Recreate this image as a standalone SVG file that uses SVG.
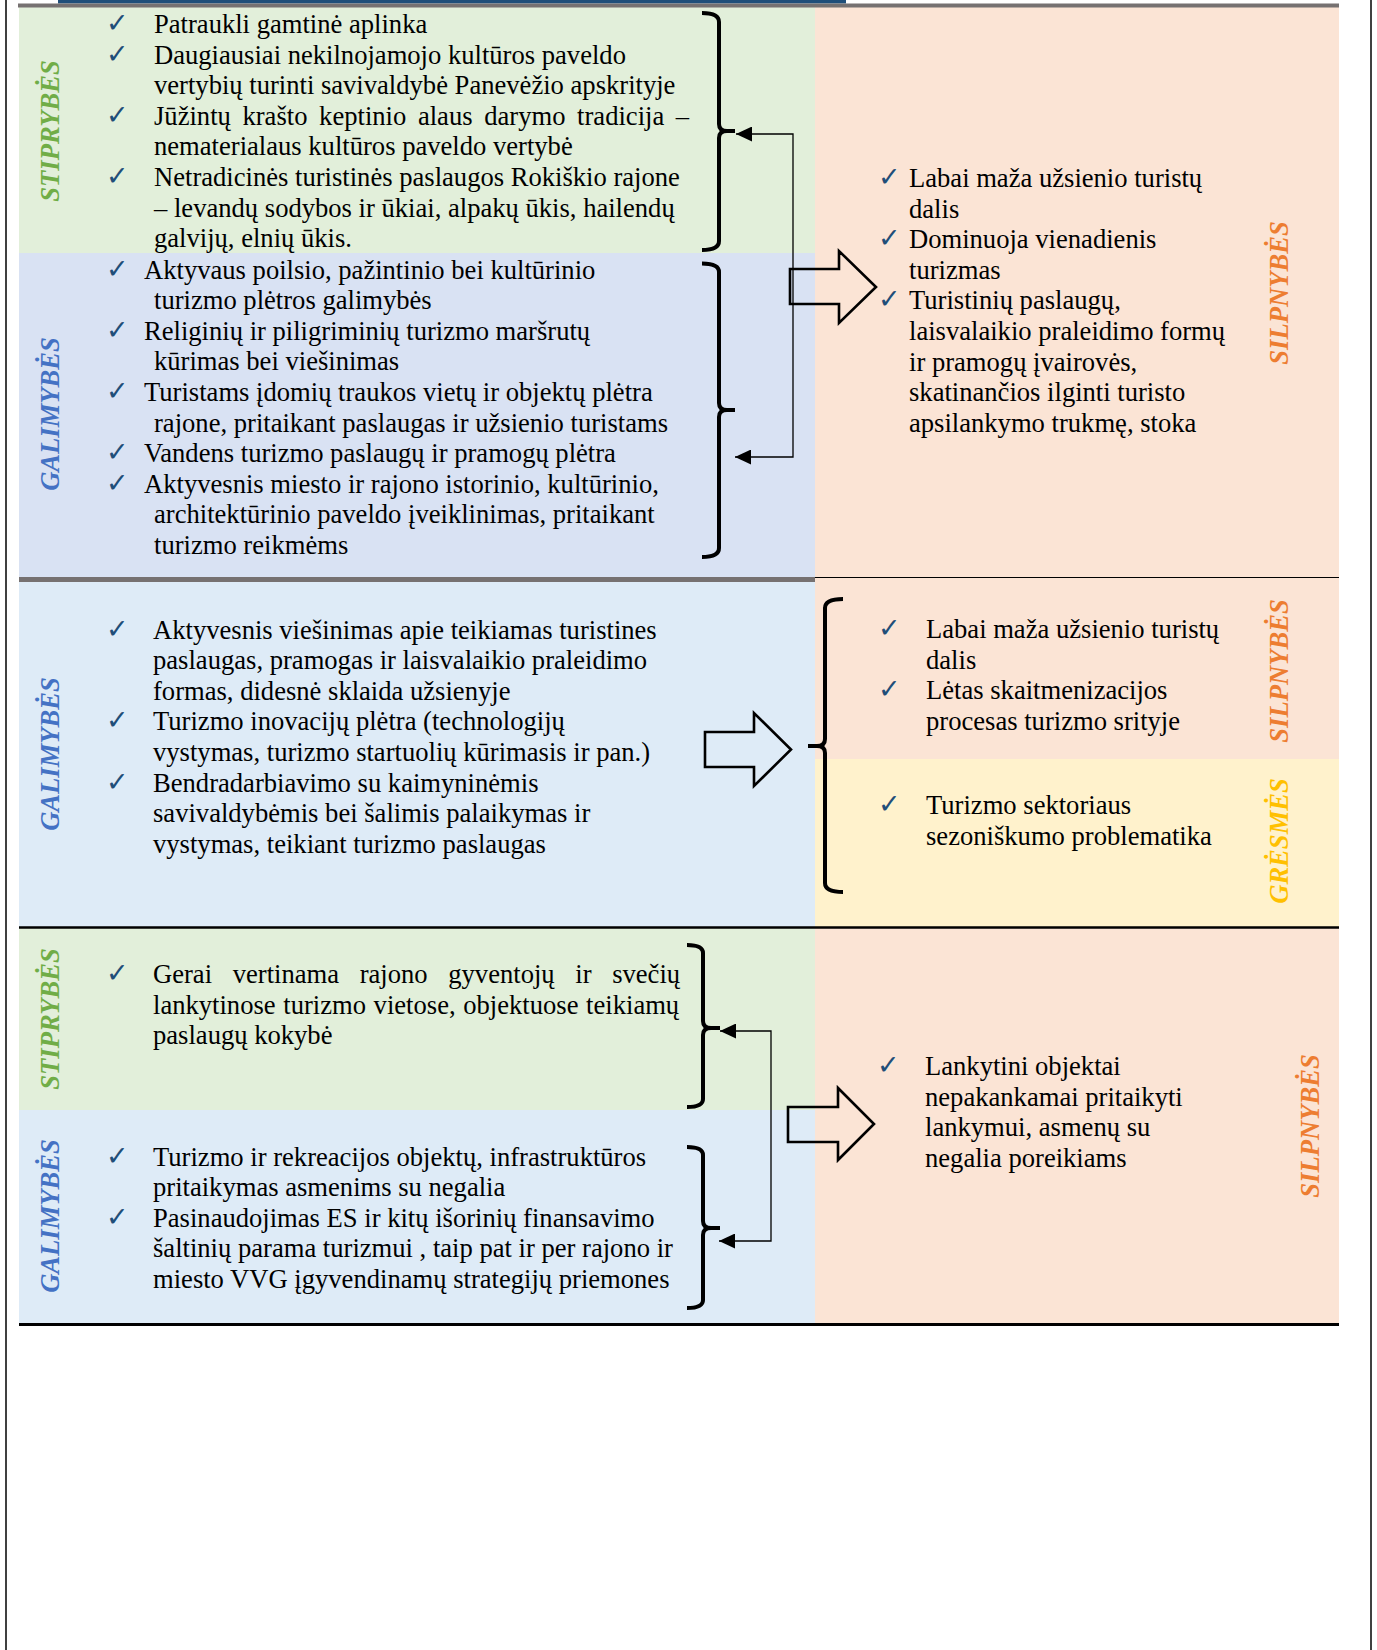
<svg xmlns="http://www.w3.org/2000/svg" width="1377" height="1650" viewBox="0 0 1377 1650">
<style>
.t{font-family:"Liberation Serif","Times New Roman",serif;font-size:26.6px;fill:#000}
.ck{font-family:"DejaVu Sans",sans-serif;font-size:27px;fill:#1F4E79}
.lbl{font-family:"Liberation Serif","Times New Roman",serif;font-size:26.6px;font-weight:bold;font-style:italic;text-anchor:middle}
.g{fill:#70AD47}.b{fill:#4472C4}.o{fill:#ED7D31}.y{fill:#FFC000}
.brace{fill:none;stroke:#000;stroke-width:4;stroke-linejoin:round}
.conn{fill:none;stroke:#000;stroke-width:1.3}
.block{fill:none;stroke:#000;stroke-width:2.6;stroke-linejoin:miter}
</style>
<defs>
<marker id="ah" viewBox="0 0 16 15" refX="16" refY="7.5" markerWidth="16" markerHeight="15" markerUnits="userSpaceOnUse" orient="auto-start-reverse">
<path d="M0,0 L16,7.5 L0,15 z" fill="#000"/>
</marker>
</defs>
<rect width="1377" height="1650" fill="#fff"/>
<g id="frame">
<line x1="6" y1="0" x2="6" y2="1650" stroke="#000" stroke-width="1.5"/>
<line x1="1371" y1="0" x2="1371" y2="1650" stroke="#000" stroke-width="1.5"/>
<rect x="58" y="0" width="788" height="3.5" fill="#1F4E79"/>
</g>
<g id="sec1-strengths">
<rect x="19" y="7" width="796" height="246" fill="#E2EFDA"/>
<text class="lbl g" transform="translate(59,131) rotate(-90)">STIPRYBĖS</text>
<text class="ck" x="106" y="32">✓</text><text class="t" x="154" y="33">Patraukli gamtinė aplinka</text>
<text class="ck" x="106" y="62.6">✓</text><text class="t" x="154" y="63.6">Daugiausiai nekilnojamojo kultūros paveldo</text>
<text class="t" x="154" y="94.2">vertybių turinti savivaldybė Panevėžio apskrityje</text>
<text class="ck" x="106" y="123.8">✓</text><text class="t" x="154" y="124.8" word-spacing="5">Jūžintų krašto keptinio alaus darymo tradicija –</text>
<text class="t" x="154" y="155.4">nematerialaus kultūros paveldo vertybė</text>
<text class="ck" x="106" y="185">✓</text><text class="t" x="154" y="186">Netradicinės turistinės paslaugos Rokiškio rajone</text>
<text class="t" x="154" y="216.6">– levandų sodybos ir ūkiai, alpakų ūkis, hailendų</text>
<text class="t" x="154" y="247.2">galvijų, elnių ūkis.</text>
</g>
<g id="sec1-opportunities">
<rect x="19" y="253" width="796" height="324" fill="#D9E2F3"/>
<text class="lbl b" transform="translate(59,414) rotate(-90)">GALIMYBĖS</text>
<text class="ck" x="106" y="277.5">✓</text><text class="t" x="144" y="278.5">Aktyvaus poilsio, pažintinio bei kultūrinio</text>
<text class="t" x="154" y="309.1">turizmo plėtros galimybės</text>
<text class="ck" x="106" y="338.7">✓</text><text class="t" x="144" y="339.7">Religinių ir piligriminių turizmo maršrutų</text>
<text class="t" x="154" y="370.3">kūrimas bei viešinimas</text>
<text class="ck" x="106" y="399.9">✓</text><text class="t" x="144" y="400.9">Turistams įdomių traukos vietų ir objektų plėtra</text>
<text class="t" x="154" y="431.5">rajone, pritaikant paslaugas ir užsienio turistams</text>
<text class="ck" x="106" y="461.1">✓</text><text class="t" x="144" y="462.1">Vandens turizmo paslaugų ir pramogų plėtra</text>
<text class="ck" x="106" y="491.7">✓</text><text class="t" x="144" y="492.7">Aktyvesnis miesto ir rajono istorinio, kultūrinio,</text>
<text class="t" x="154" y="523.3">architektūrinio paveldo įveiklinimas, pritaikant</text>
<text class="t" x="154" y="553.9">turizmo reikmėms</text>
</g>
<g id="sec1-weaknesses">
<rect x="815" y="7" width="524" height="570" fill="#FBE4D5"/>
<text class="lbl o" transform="translate(1288,293) rotate(-90)">SILPNYBĖS</text>
<text class="ck" x="878" y="186">✓</text><text class="t" x="909" y="187">Labai maža užsienio turistų</text>
<text class="t" x="909" y="217.6">dalis</text>
<text class="ck" x="878" y="247.2">✓</text><text class="t" x="909" y="248.2">Dominuoja vienadienis</text>
<text class="t" x="909" y="278.8">turizmas</text>
<text class="ck" x="878" y="308.4">✓</text><text class="t" x="909" y="309.4">Turistinių paslaugų,</text>
<text class="t" x="909" y="340">laisvalaikio praleidimo formų</text>
<text class="t" x="909" y="370.6">ir pramogų įvairovės,</text>
<text class="t" x="909" y="401.2">skatinančios ilginti turisto</text>
<text class="t" x="909" y="431.8">apsilankymo trukmę, stoka</text>
</g>
<g id="sec2-opportunities">
<rect x="19" y="577" width="796" height="350" fill="#DEEBF7"/>
<text class="lbl b" transform="translate(59,754) rotate(-90)">GALIMYBĖS</text>
<text class="ck" x="106" y="637.5">✓</text><text class="t" x="153" y="638.5">Aktyvesnis viešinimas apie teikiamas turistines</text>
<text class="t" x="153" y="669.1">paslaugas, pramogas ir laisvalaikio praleidimo</text>
<text class="t" x="153" y="699.7">formas, didesnė sklaida užsienyje</text>
<text class="ck" x="106" y="729.3">✓</text><text class="t" x="153" y="730.3">Turizmo inovacijų plėtra (technologijų</text>
<text class="t" x="153" y="760.9">vystymas, turizmo startuolių kūrimasis ir pan.)</text>
<text class="ck" x="106" y="790.5">✓</text><text class="t" x="153" y="791.5">Bendradarbiavimo su kaimyninėmis</text>
<text class="t" x="153" y="822.1">savivaldybėmis bei šalimis palaikymas ir</text>
<text class="t" x="153" y="852.7">vystymas, teikiant turizmo paslaugas</text>
</g>
<g id="sec2-weaknesses">
<rect x="815" y="577" width="524" height="182" fill="#FBE4D5"/>
<text class="lbl o" transform="translate(1288,671) rotate(-90)">SILPNYBĖS</text>
<text class="ck" x="878" y="637">✓</text><text class="t" x="926" y="638">Labai maža užsienio turistų</text>
<text class="t" x="926" y="668.6">dalis</text>
<text class="ck" x="878" y="698.2">✓</text><text class="t" x="926" y="699.2">Lėtas skaitmenizacijos</text>
<text class="t" x="926" y="729.8">procesas turizmo srityje</text>
</g>
<g id="sec2-threats">
<rect x="815" y="759" width="524" height="168" fill="#FFF2CC"/>
<text class="lbl y" transform="translate(1288,841) rotate(-90)">GRĖSMĖS</text>
<text class="ck" x="878" y="813">✓</text><text class="t" x="926" y="814">Turizmo sektoriaus</text>
<text class="t" x="926" y="844.6">sezoniškumo problematika</text>
</g>
<g id="sec3-strengths">
<rect x="19" y="927" width="796" height="183" fill="#E2EFDA"/>
<text class="lbl g" transform="translate(59,1019) rotate(-90)">STIPRYBĖS</text>
<text class="ck" x="106" y="982">✓</text><text class="t" x="153" y="983" word-spacing="14">Gerai vertinama rajono gyventojų ir svečių</text>
<text class="t" x="153" y="1013.6" word-spacing="1">lankytinose turizmo vietose, objektuose teikiamų</text>
<text class="t" x="153" y="1044.2">paslaugų kokybė</text>
</g>
<g id="sec3-opportunities">
<rect x="19" y="1110" width="796" height="214" fill="#DEEBF7"/>
<text class="lbl b" transform="translate(59,1216) rotate(-90)">GALIMYBĖS</text>
<text class="ck" x="106" y="1164.5">✓</text><text class="t" x="153" y="1165.5">Turizmo ir rekreacijos objektų, infrastruktūros</text>
<text class="t" x="153" y="1196.1">pritaikymas asmenims su negalia</text>
<text class="ck" x="106" y="1225.7">✓</text><text class="t" x="153" y="1226.7">Pasinaudojimas ES ir kitų išorinių finansavimo</text>
<text class="t" x="153" y="1257.3">šaltinių parama turizmui , taip pat ir per rajono ir</text>
<text class="t" x="153" y="1287.9">miesto VVG įgyvendinamų strategijų priemones</text>
</g>
<g id="sec3-weaknesses">
<rect x="815" y="927" width="524" height="397" fill="#FBE4D5"/>
<text class="lbl o" transform="translate(1319,1126) rotate(-90)">SILPNYBĖS</text>
<text class="ck" x="877" y="1074">✓</text><text class="t" x="925" y="1075">Lankytini objektai</text>
<text class="t" x="925" y="1105.6">nepakankamai pritaikyti</text>
<text class="t" x="925" y="1136.2">lankymui, asmenų su</text>
<text class="t" x="925" y="1166.8">negalia poreikiams</text>
</g>
<g id="rules">
<rect x="18" y="3.5" width="1321" height="4" fill="#767171"/>
<rect x="19" y="577" width="796" height="5" fill="#767171"/>
<line x1="815" y1="577.5" x2="1339" y2="577.5" stroke="#000" stroke-width="1"/>
<line x1="19" y1="927.5" x2="1339" y2="927.5" stroke="#000" stroke-width="2.5"/>
<line x1="19" y1="1324.5" x2="1339" y2="1324.5" stroke="#000" stroke-width="3"/>
</g>
<g id="connectors">
<path class="brace" d="M702,13 Q719,13 719,22 L719,124 Q719,131 727,131 L735,131 M727,131 Q719,131 719,138 L719,241 Q719,250 702,250"/>
<path class="brace" d="M702,263.5 Q719,263.5 719,272 L719,403 Q719,410 727,410 L735,410 M727,410 Q719,410 719,417 L719,548 Q719,557 702,557"/>
<path class="brace" d="M843,599 Q825,599 825,608 L825,739 Q825,746 817,746 L808,746 M817,746 Q825,746 825,753 L825,883 Q825,892 843,892"/>
<path class="brace" d="M687,945 Q703,945 703,953 L703,1021 Q703,1028 711,1028 L720,1028 M711,1028 Q703,1028 703,1035 L703,1099 Q703,1107 687,1107"/>
<path class="brace" d="M687,1147 Q703,1147 703,1155 L703,1221 Q703,1228 711,1228 L720,1228 M711,1228 Q703,1228 703,1235 L703,1300 Q703,1308 687,1308"/>
<path class="conn" d="M736,134 L793,134 L793,457 L735,457" marker-start="url(#ah)" marker-end="url(#ah)"/>
<path class="conn" d="M720,1031 L771,1031 L771,1241 L719,1241" marker-start="url(#ah)" marker-end="url(#ah)"/>
<path class="block" d="M790,269 L839,269 L839,251 L876,287 L839,323 L839,304 L790,304 Z"/>
<path class="block" d="M705,732 L754,732 L754,713 L791,749.5 L754,786 L754,767 L705,767 Z"/>
<path class="block" d="M788,1107 L838,1107 L838,1088 L874,1124 L838,1160 L838,1142 L788,1142 Z"/>
</g>
</svg>
